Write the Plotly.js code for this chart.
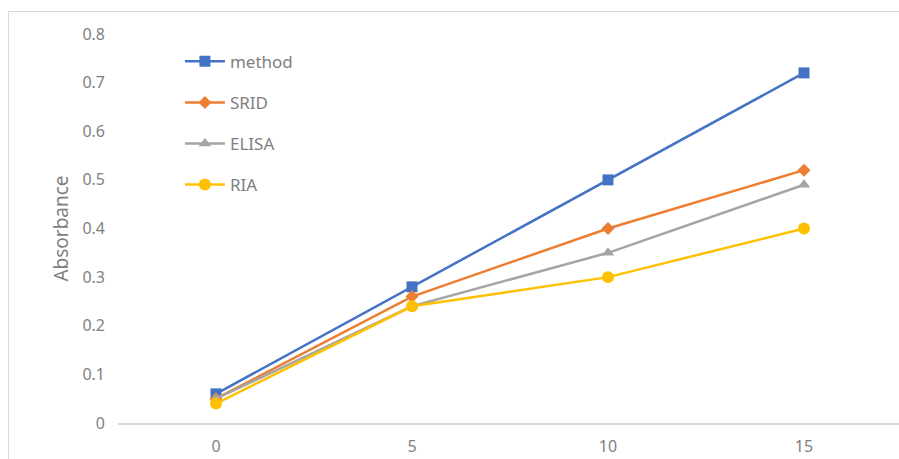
<!DOCTYPE html>
<html>
<head>
<meta charset="utf-8">
<script src="https://cdn.plot.ly/plotly-3.0.1.min.js"></script>
<style>
  html, body { margin: 0; padding: 0; background: #ffffff; overflow: hidden; }
  #frame {
    position: absolute; left: 8px; top: 11px; width: 1000px; height: 600px;
    border: 1.5px solid #d9d9d9; box-sizing: border-box; pointer-events: none;
  }
  #chart { position: absolute; left: 0; top: 0; }
</style>
</head>
<body>
<div id="frame"></div>
<div id="chart"></div>
<script>
// Concentration steps on the category axis
const doses = ['0', '5', '10', '15'];

// Absorbance readings per assay
const methodVals = [0.06, 0.28, 0.50, 0.72];
const sridVals   = [0.05, 0.26, 0.40, 0.52];
const elisaVals  = [0.05, 0.24, 0.35, 0.49];
const riaVals    = [0.04, 0.24, 0.30, 0.40];

const seriesNames = ['method', 'SRID', 'ELISA', 'RIA'];
const yTicks = [0, 0.1, 0.2, 0.3, 0.4, 0.5, 0.6, 0.7, 0.8];
const yTickText = ['0', '0.1', '0.2', '0.3', '0.4', '0.5', '0.6', '0.7', '0.8'];

const palette = ['#4472c4', '#ed7d31', '#a5a5a5', '#ffc000'];
const symbols = ['square', 'diamond', 'triangle-up', 'circle'];
const sizes = [11, 10, 11, 12];
const allVals = [methodVals, sridVals, elisaVals, riaVals];

const traces = allVals.map((vals, i) => ({
  type: 'scatter',
  mode: 'lines+markers',
  name: seriesNames[i],
  legendgroup: 'g' + i,
  x: doses,
  y: vals,
  line: { color: palette[i], width: 2.5 },
  marker: { color: palette[i], symbol: symbols[i], size: sizes[i] },
  hoverinfo: 'x+y+name'
}));

const fontFam = '"Noto Sans", "Liberation Sans", Arial, sans-serif';

const layout = {
  width: 910,
  height: 459,
  margin: { l: 118, r: 8, t: 34, b: 36 },
  paper_bgcolor: 'rgba(0,0,0,0)',
  plot_bgcolor: 'rgba(0,0,0,0)',
  font: { family: fontFam, size: 16, color: '#7f7f7f' },
  showlegend: true,
  legend: {
    x: 0.079, y: 0.975, xanchor: 'left', yanchor: 'top',
    bgcolor: 'rgba(0,0,0,0)',
    font: { family: fontFam, size: 17, color: '#7f7f7f' },
    traceorder: 'grouped',
    tracegroupgap: 16,
    itemwidth: 40
  },
  xaxis: {
    type: 'category',
    range: [-0.5, 3.5],
    showgrid: false,
    zeroline: false,
    showline: true,
    linecolor: '#d9d9d9',
    linewidth: 1.5,
    ticks: '',
    ticklabelstandoff: 8,
    tickfont: { family: fontFam, size: 16, color: '#7f7f7f' },
    fixedrange: true
  },
  yaxis: {
    range: [0, 0.8],
    tickvals: yTicks,
    ticktext: yTickText,
    showgrid: false,
    zeroline: false,
    showline: false,
    ticks: '',
    ticklabelstandoff: 12,
    tickfont: { family: fontFam, size: 16, color: '#7f7f7f' },
    title: { text: 'Absorbance', font: { family: fontFam, size: 19, color: '#7f7f7f' }, standoff: 8 },
    fixedrange: true
  }
};

Plotly.newPlot('chart', traces, layout, { displayModeBar: false, staticPlot: true });
</script>
</body>
</html>
